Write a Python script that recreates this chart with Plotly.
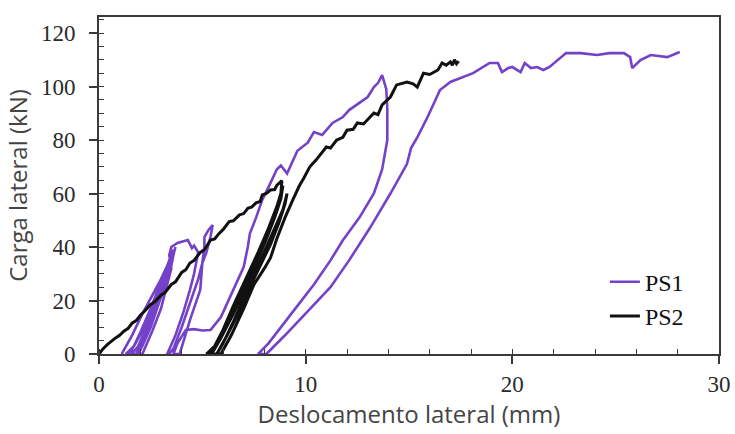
import plotly.graph_objects as go

# PS1 (purple) - cyclic lateral load vs displacement
ps1_x = [1.1, 1.6, 2.1, 2.6, 3.0, 3.3, 3.5,
         3.4, 3.1, 2.7, 2.2, 1.7, 1.3,
         1.5, 2.0, 2.5, 2.9, 3.3, 3.5, 3.6,
         3.5, 3.2, 2.8, 2.3, 1.9, 1.6,
         1.8, 2.3, 2.8, 3.2, 3.5, 3.6, 3.7,
         3.6, 3.3, 2.9, 2.5, 2.1, 1.9,
         2.1, 2.6, 3.0, 3.3, 3.5, 3.4, 3.5, 3.8, 4.0, 4.3, 4.5, 4.6, 4.8,
         4.6, 4.4, 4.1, 3.7, 3.3,
         3.4, 3.6, 4.0, 4.4, 4.8, 5.0, 5.1, 5.1, 5.3, 5.5,
         5.4, 5.2, 5.0, 4.9, 4.4, 4.1, 3.9,
         3.6, 3.8, 4.2, 4.6, 5.0, 5.4, 5.9, 6.5, 7.0, 7.2, 7.3, 7.6, 7.9, 8.3, 8.6, 8.8, 9.1,
         9.6, 10.1, 10.4, 10.8, 11.3, 11.8, 12.1, 12.6, 13.0, 13.3, 13.5, 13.7,
         13.9, 13.95, 13.95, 13.7, 13.3, 12.6, 11.8, 11.2, 10.4, 9.6, 8.8, 8.2, 7.7,
         8.1, 9.0, 10.0, 11.2, 12.1, 13.1, 14.1, 14.9, 15.1, 15.4, 15.9, 16.2, 16.5,
         17.0, 17.5, 18.1, 18.9, 19.3, 19.5, 19.8, 20.0, 20.4, 20.6, 20.9, 21.2, 21.5,
         21.8, 22.2, 22.6, 23.3, 24.1, 24.7, 25.4, 25.7, 25.8, 26.2, 26.7, 27.5, 28.1]
ps1_y = [0, 7, 15, 22, 28, 33, 37,
         34, 27, 19, 10, 3, 0,
         0, 8, 17, 25, 31, 36, 39,
         35, 28, 19, 10, 3, 0,
         0, 8, 17, 26, 33, 37, 40,
         36, 28, 19, 10, 3, 0,
         0, 9, 17, 26, 32, 37, 40, 41.5, 41.9, 42.6, 39.6, 40.5, 38,
         30, 24, 16, 7, 0,
         0, 2, 10, 19, 28, 34, 40, 43.7, 46.4, 48.2,
         44, 38, 34, 24, 12.7, 5, 0,
         0, 4, 9, 9.3, 8.8, 9.0, 13.8, 23.9, 32.5, 40, 45, 51, 57.6, 64, 69, 70.5, 67.5,
         76, 79, 83, 81.9, 86.4, 88.6, 91.2, 93.8, 96.1, 99.8, 101.3, 104.3,
         99, 92, 80, 69, 60, 51, 42.5, 35, 26, 18, 10, 4, 0,
         0, 7, 15, 25, 35, 47, 60, 71, 77, 81, 88.6, 93.8, 98.7,
         101.7, 103.2, 105, 108.8, 108.8, 105.4, 106.9, 107.3, 105.4, 108.8, 106.9, 107.3, 106.2,
         107.3, 109.9, 112.5, 112.5, 111.8, 112.5, 112.5, 111.0, 106.9, 109.9, 111.8, 111.0, 112.9]

# PS2 (black)
ps2_x = [0, 0.2, 0.4, 0.6, 0.8, 1.0, 1.2, 1.4, 1.6, 1.8, 2.0, 2.2, 2.5, 2.7, 3.0, 3.2, 3.5, 3.7,
         4.0, 4.2, 4.4, 4.6, 4.9, 5.1, 5.4, 5.6, 5.8, 6.0, 6.3, 6.5, 6.8, 7.0, 7.2, 7.4, 7.6,
         7.8, 7.9, 8.1, 8.3, 8.5, 8.6, 8.85,
         8.8, 8.6, 8.2, 7.7, 7.1, 6.5, 6.0, 5.6, 5.2,
         5.4, 5.9, 6.5, 7.1, 7.6, 8.1, 8.5, 8.8, 8.9,
         8.7, 8.4, 8.0, 7.5, 7.0, 6.4, 5.9, 5.45,
         5.7, 6.2, 6.8, 7.3, 7.8, 8.3, 8.7, 9.0, 9.1,
         8.9, 8.5, 8.1, 7.6, 7.1, 6.5, 6.0, 5.7,
         5.9, 6.4, 7.0, 7.5, 8.0, 8.3, 8.6, 9.0, 9.4, 9.7, 9.9,
         10.2, 10.5, 11.0, 11.2, 11.5, 11.8, 12.0, 12.3, 12.5, 12.8, 13.0, 13.3, 13.5, 13.7,
         14.1, 14.4, 14.9, 15.2, 15.4, 15.7, 16.0, 16.4, 16.6, 16.8, 17.0, 17.1, 17.2, 17.3, 17.4]
ps2_y = [0, 2, 3.5, 4.8, 6, 7, 8.5, 9.5, 11.5, 12.5, 14.5, 16, 18.5, 19.5, 22, 23, 26, 27,
         30.5, 31.5, 34, 35, 38, 39, 42.6, 43, 45, 46.5, 49.5, 49.8, 52, 52.5, 54.5, 55, 56.5,
         57, 59.5, 60, 61.3, 61.5, 63, 64.8,
         60, 55, 47, 38, 28, 18, 9, 3, 0,
         0, 6, 15, 25, 34, 43, 51, 58, 63,
         57, 51, 43, 33, 24, 14, 6, 0,
         0, 7, 16, 25, 33, 41, 49, 56, 60,
         54, 47, 40, 31, 22, 12, 4, 0,
         0, 7, 17, 26, 32, 36, 43, 51, 58, 63, 65.6,
         70, 72.5, 77.4, 77, 80, 81, 83.7, 84, 86.4, 86, 87.5, 90.1, 89.5, 93.1,
         96.1, 100.6, 101.7, 101, 99.8, 105, 104.5, 106.2, 108.8, 108, 109.2, 108, 110, 108.5, 109.5]

x_ticks = [0, 10, 20, 30]
y_ticks = [0, 20, 40, 60, 80, 100, 120]

fig = go.Figure()
fig.add_trace(go.Scatter(x=ps1_x, y=ps1_y, mode="lines", name="PS1",
                         line=dict(color="#7442C8", width=2.6)))
fig.add_trace(go.Scatter(x=ps2_x, y=ps2_y, mode="lines", name="PS2",
                         line=dict(color="#111111", width=3)))

axis_common = dict(showline=True, linecolor="#3a3a3a", linewidth=2, mirror=True,
                   showgrid=False, zeroline=False, ticks="outside", ticklen=8,
                   tickwidth=1.5, tickcolor="#3a3a3a", automargin=False,
                   tickfont=dict(family="Liberation Serif", size=23, color="#2a2a2a"))

fig.update_layout(
    width=735, height=434,
    margin=dict(l=99, r=16, t=17, b=80),
    plot_bgcolor="white", paper_bgcolor="white",
    showlegend=True,
    legend=dict(x=0.816, y=0.28, xanchor="left", yanchor="top",
                font=dict(family="Liberation Serif", size=24, color="#111111"),
                bgcolor="rgba(0,0,0,0)", tracegroupgap=0),
    xaxis=dict(range=[0, 30], tickvals=x_ticks, ticktext=[str(v) for v in x_ticks],
               ticklabeloverflow="allow",
               minor=dict(dtick=2, ticks="inside", ticklen=5, tickcolor="#3a3a3a", tickwidth=1.2),
               title=dict(text="Deslocamento lateral (mm)",
                          font=dict(family="Open Sans", size=24, color="#444444"), standoff=0),
               **axis_common),
    yaxis=dict(range=[0, 126], tickvals=y_ticks, ticktext=[str(v) for v in y_ticks],
               ticklabelstandoff=9,
               minor=dict(dtick=5, ticks="inside", ticklen=5, tickcolor="#3a3a3a", tickwidth=1.2),
               title=dict(text="Carga lateral (kN)",
                          font=dict(family="Open Sans", size=24, color="#444444"), standoff=7),
               **axis_common),
)

# remove the default 8px page margin so the 735x434 figure fills the window exactly
fig.write_html("out.html",
               config={"displayModeBar": False},
               post_script="document.body.style.margin='0';document.body.style.overflow='hidden';")
